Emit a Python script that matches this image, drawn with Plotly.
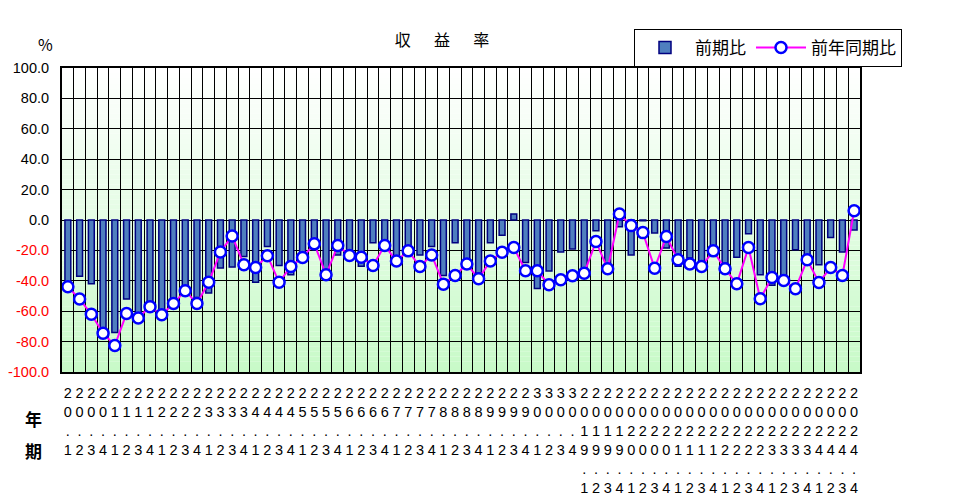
import plotly.graph_objects as go

# ---- data ----
periods = (
    [f"{y}.{q}" for y in range(20, 31) for q in range(1, 5)]
    + [f"{y}.{q}" for y in range(2019, 2025) for q in range(1, 5)]
)

qoq = [  # 前期比
    -42, -37, -42, -72, -74, -52, -61, -55, -60, -53, -45, -51,
    -48, -31.5, -31, -24, -41, -17.5, -30, -36, -24, -14, -33.5, -23,
    -22, -30.5, -15, -18, -28, -21, -23, -17.5, -36.5, -15, -27, -35,
    -15, -10, 4, -28, -45, -33.5, -21, -19, -32, -7, -30.5, -4.5,
    -23, -0.5, -8.5, -18.5, -30.5, -25, -27.5, -18.5, -28.5, -24.5, -9, -36,
    -43, -38.5, -19.5, -23, -29.5, -11.5, -21, -6.5,
]

yoy = [  # 前年同期比
    -43.9, -52, -62, -74.5, -82.5, -61.5, -64.5, -57, -62.3, -55, -46.5, -55,
    -41, -21, -10.5, -29.5, -31.3, -23.5, -41, -30.6, -24.7, -15.7, -36, -16.8,
    -23.4, -24.5, -30, -16.8, -27, -20.3, -30.6, -23, -42.2, -36.5, -29, -38.7,
    -27, -21.2, -18.1, -33.4, -33.4, -42.6, -39.3, -36.7, -35, -14.2, -32.1, 3.9,
    -3.7, -8.3, -31.7, -10.9, -26.2, -28.9, -30.6, -20.3, -32.1, -42, -18.1, -51.8,
    -37.8, -39.8, -45.2, -26.2, -41.1, -31.3, -36.5, 6.1,
]

y_ticks = [100, 80, 60, 40, 20, 0, -20, -40, -60, -80, -100]

# ---- derived ----
x_labels = ["<br>".join(p) for p in periods]
y_ticktext = [
    f'<span style="color:#ff0000">{v:.1f}</span>' if v < 0 else f"{v:.1f}"
    for v in y_ticks
]

FONT = "Liberation Sans, Noto Sans CJK JP, sans-serif"
CJK = "Noto Sans CJK JP, sans-serif"

fig = go.Figure()

fig.add_trace(go.Bar(
    x=x_labels, y=qoq, name="前期比",
    marker=dict(color="#4f7fbf", line=dict(color="#000080", width=1.5)),
))
fig.add_trace(go.Scatter(
    x=x_labels, y=yoy, name="前年同期比", mode="lines+markers",
    line=dict(color="#ff00ff", width=2),
    marker=dict(symbol="circle", size=11, color="white",
                line=dict(color="#0000ff", width=2.5)),
))

# background gradient (white at top -> light green at bottom)
n = 60
shapes = []
for i in range(n):
    t = i / (n - 1)
    y0 = 100 - 200 * i / n
    y1 = 100 - 200 * (i + 1) / n
    r = round(255 + (200 - 255) * t)
    g = round(255 + (250 - 255) * t)
    b = round(255 + (200 - 255) * t)
    shapes.append(dict(type="rect", xref="paper", yref="y", x0=0, x1=1,
                       y0=y1, y1=y0, fillcolor=f"rgb({r},{g},{b})",
                       line=dict(width=0), layer="below"))

# page has an 8px body margin; plot area target: x 62..860, y 68..372
OFF = 8
W, H = 975, 502
fig.update_layout(
    width=W, height=H,
    margin=dict(l=62 - OFF, r=W + OFF - 860, t=68 - OFF, b=H + OFF - 372),
    paper_bgcolor="white", plot_bgcolor="white",
    template="none",
    bargap=0.5,
    shapes=shapes,
    font=dict(family=FONT, color="black", size=14),
    showlegend=True,
    legend=dict(orientation="h", x=(634 - 62) / 798, y=(372 - 29) / 304,
                xanchor="left", yanchor="top", itemwidth=50,
                bordercolor="black", borderwidth=1, bgcolor="white",
                font=dict(family=CJK, size=17)),
    title=dict(text="収 \u3000 益 \u3000 率", x=(442 - 62) / 798, xref="paper",
               y=1 - (40 - OFF) / H, yanchor="middle", xanchor="center",
               font=dict(family=CJK, size=16)),
)

fig.update_xaxes(
    type="category", range=[-0.5, len(periods) - 0.5],
    tickmode="linear", tick0=0, dtick=1, tickson="boundaries",
    showgrid=True, gridcolor="black", gridwidth=1,
    showline=True, mirror=True, linecolor="black", linewidth=2,
    ticks="", tickangle=0, tickfont=dict(family=FONT, size=14.5),
    ticklabelstandoff=7, automargin=False,
)
fig.update_yaxes(
    range=[-100, 100], tickvals=y_ticks, ticktext=y_ticktext,
    showgrid=True, gridcolor="black", gridwidth=1,
    zeroline=True, zerolinecolor="black", zerolinewidth=1,
    showline=True, mirror=True, linecolor="black", linewidth=2,
    ticks="", tickfont=dict(family=FONT, size=14.5), ticklabelstandoff=8,
    automargin=False,
)

def px_x(px):
    return (px - 62) / 798

def px_y(py):
    return (372 - py) / 304

for txt, x, y, size in [("%", 45, 44, 16), ("<b>年</b>", 33, 418, 17),
                        ("<b>期</b>", 33, 450, 17)]:
    fig.add_annotation(text=txt, x=px_x(x), y=px_y(y), xref="paper", yref="paper",
                       xanchor="center", yanchor="middle", showarrow=False,
                       font=dict(family=CJK, size=size))

fig.write_html("out.html")
